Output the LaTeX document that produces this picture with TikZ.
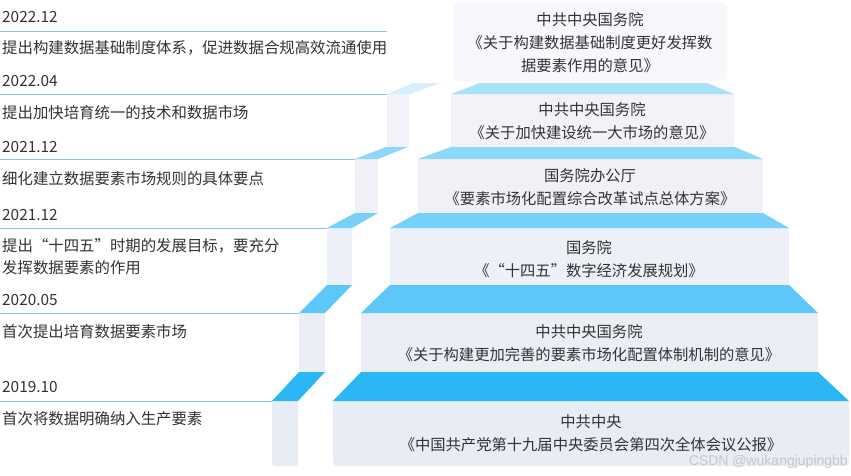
\documentclass[tikz,border=0pt]{standalone}
\usepackage{fontspec}
\newfontfamily\cjk{Noto Sans CJK SC}
\newfontfamily\wmfont{Liberation Sans}
\definecolor{b1}{HTML}{2BB7F6}
\definecolor{b2}{HTML}{5CC7F8}
\definecolor{b3}{HTML}{76D0F9}
\definecolor{b4}{HTML}{8CD8F9}
\definecolor{b5}{HTML}{A8E2FA}
\definecolor{b6}{HTML}{D5EFFB}
\definecolor{g1}{HTML}{E8ECF4}
\definecolor{g2}{HTML}{EBEEF5}
\definecolor{g3}{HTML}{EDF0F6}
\definecolor{g4}{HTML}{EFF1F7}
\definecolor{g5}{HTML}{F1F3F8}
\definecolor{g6}{HTML}{F7F8FB}
\definecolor{ln}{HTML}{7EC6E9}
\definecolor{txt}{HTML}{333333}
\definecolor{wm}{HTML}{C4C7CD}
\tikzset{
  lefttext/.style={anchor=west, inner sep=0pt, text=txt, font=\cjk\fontsize{15.4}{22}\selectfont, align=left},
  boxtext/.style={anchor=center, inner sep=0pt, text=txt, font=\cjk\fontsize{15.3}{23}\selectfont, align=center},
  dateline/.style={draw=ln, line width=0.9pt},
}
\begin{document}
\begin{tikzpicture}[x=1pt,y=-1pt]
\useasboundingbox (0,0) rectangle (851,475);
\fill[white] (0,0) rectangle (851,475);

% ---- left columns ----
% 2019.10
\fill[g1] (272,401) -- (272,463) arc[start angle=180,end angle=90,radius=3] -- (295,466) arc[start angle=90,end angle=0,radius=3] -- (298,401) -- cycle;
\fill[b1] (272,401) -- (298,401) -- (325,372) -- (299,372) -- cycle;
% 2020.05
\fill[g2] (299,313) rectangle (325,372);
\fill[b2] (299,313) -- (325,313) -- (352,285) -- (327,285) -- cycle;
% 2021.12 b
\fill[g3] (327,228) rectangle (352,285);
\fill[b3] (327,228) -- (352,228) -- (378,213) -- (355,213) -- cycle;
% 2021.12 a
\fill[g4] (355,159) rectangle (378,213);
\fill[b4] (355,159) -- (378,159) -- (408,147) -- (386,147) -- cycle;
% 2022.04
\fill[g5] (387,94) rectangle (409,147);
\fill[b6] (387,94) -- (410,94) -- (440,83) -- (413,83) -- cycle;

% ---- main steps ----
\fill[g1] (333,401) -- (333,462) arc[start angle=180,end angle=90,radius=4] -- (845,466) arc[start angle=90,end angle=0,radius=4] -- (849,401) -- cycle;
\fill[b1] (333,401) -- (849,401) -- (818,372) -- (361,372) -- cycle;
\fill[g2] (361,313) rectangle (818,372);
\fill[b2] (361,313) -- (818,313) -- (789,285) -- (390,285) -- cycle;
\fill[g3] (390,228) rectangle (789,285);
\fill[b3] (390,228) -- (789,228) -- (763,213) -- (418,213) -- cycle;
\fill[g4] (418,159) rectangle (763,213);
\fill[b4] (418,159) -- (763,159) -- (735,147) -- (451,147) -- cycle;
\fill[g5] (451,94) rectangle (734,147);
\fill[b5] (451,94) -- (734,94) -- (707,83) -- (480,83) -- cycle;
\fill[g6, rounded corners=6] (453,2) rectangle (727,81);

% ---- date lines ----
\coordinate (l6a) at (0,31);  \coordinate (l6b) at (387,31);
\coordinate (l5a) at (0,94);  \coordinate (l5b) at (387,94);
\coordinate (l4a) at (0,159); \coordinate (l4b) at (355,159);
\coordinate (l3a) at (0,228); \coordinate (l3b) at (327,228);
\coordinate (l2a) at (0,313); \coordinate (l2b) at (299,313);
\coordinate (l1a) at (0,401); \coordinate (l1b) at (272,401);
\draw[dateline] (l6a) -- (l6b);
\draw[dateline] (l5a) -- (l5b);
\draw[dateline] (l4a) -- (l4b);
\draw[dateline] (l3a) -- (l3b);
\draw[dateline] (l2a) -- (l2b);
\draw[dateline] (l1a) -- (l1b);

% ---- left texts ----
\node[lefttext] (d6) at (2,17) {2022.12};
\node[lefttext] (t6) at (2,48) {提出构建数据基础制度体系，促进数据合规高效流通使用};
\node[lefttext] (d5) at (2,81) {2022.04};
\node[lefttext] (t5) at (2,113) {提出加快培育统一的技术和数据市场};
\node[lefttext] (d4) at (2,147) {2021.12};
\node[lefttext] (t4) at (2,179) {细化建立数据要素市场规则的具体要点};
\node[lefttext] (d3) at (2,215) {2021.12};
\node[lefttext] (t3) at (2,257) {提出“十四五”时期的发展目标，要充分\\发挥数据要素的作用};
\node[lefttext] (d2) at (2,300) {2020.05};
\node[lefttext] (t2) at (2,332) {首次提出培育数据要素市场};
\node[lefttext] (d1) at (2,387) {2019.10};
\node[lefttext] (t1) at (2,419) {首次将数据明确纳入生产要素};

% ---- box texts ----
\node[boxtext] (s6) at (590,43) {中共中央国务院\\《关于构建数据基础制度更好发挥数\\据要素作用的意见》};
\node[boxtext] (s5) at (592,121) {中共中央国务院\\《关于加快建设统一大市场的意见》};
\node[boxtext] (s4) at (590,187) {国务院办公厅\\《要素市场化配置综合改革试点总体方案》};
\node[boxtext] (s3) at (589,259) {国务院\\《“十四五”数字经济发展规划》};
\node[boxtext] (s2) at (589,343) {中共中央国务院\\《关于构建更加完善的要素市场化配置体制机制的意见》};
\node[boxtext] (s1) at (591,433) {中共中央\\《中国共产党第十九届中央委员会第四次全体会议公报》};

% ---- watermark ----
\node[anchor=east, inner sep=0pt, text=wm, font=\wmfont\fontsize{14}{16}\selectfont] (wmk) at (848,462) {CSDN @wukangjupingbb};
\end{tikzpicture}
\end{document}
